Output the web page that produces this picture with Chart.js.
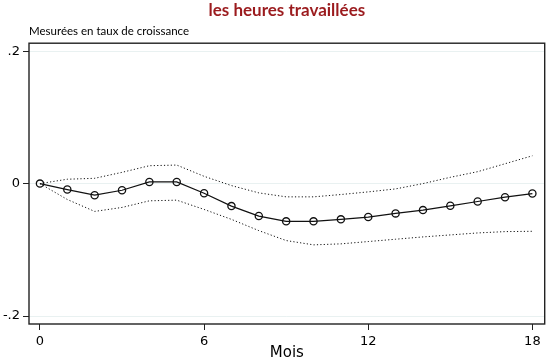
<!DOCTYPE html>
<html>
<head>
<meta charset="utf-8">
<script src="https://cdn.jsdelivr.net/npm/chart.js@4"></script>
<style>
  html, body { margin: 0; padding: 0; background: #fff; }
  #wrap { width: 550px; height: 362px; }
</style>
</head>
<body>
<div id="wrap"><canvas id="irfChart"></canvas></div>
<script>
// mois 0..18
const mois = [0,1,2,3,4,5,6,7,8,9,10,11,12,13,14,15,16,17,18];
const reponse = [0, -0.009, -0.0175, -0.010, 0.0025, 0.0025, -0.0145, -0.034, -0.049, -0.057, -0.057, -0.054, -0.0505, -0.045, -0.040, -0.0335, -0.027, -0.0205, -0.015];
const borneHaute = [0, 0.0066, 0.008, 0.017, 0.027, 0.028, 0.011, -0.003, -0.014, -0.020, -0.020, -0.0165, -0.0125, -0.008, 0.000, 0.0095, 0.018, 0.030, 0.042];
const borneBasse = [0, -0.024, -0.042, -0.036, -0.026, -0.025, -0.039, -0.054, -0.071, -0.086, -0.0925, -0.091, -0.0875, -0.084, -0.0805, -0.0775, -0.0745, -0.0725, -0.072];

const xTicks = [0, 6, 12, 18];
const yTicks = [-0.2, 0, 0.2];
const yTickLabels = ['-.2', '0', '.2'];

function toPoints(vals) {
  return mois.map((m, i) => ({ x: m, y: vals[i] }));
}

// cadre autour de la zone du graphique
const cadre = {
  id: 'cadre',
  afterDraw(chart) {
    const a = chart.chartArea;
    const ctx = chart.ctx;
    ctx.save();
    ctx.strokeStyle = '#222';
    ctx.lineWidth = 1.4;
    ctx.strokeRect(a.left, a.top, a.right - a.left, a.bottom - a.top);
    ctx.restore();
  }
};

new Chart(document.getElementById('irfChart'), {
  type: 'line',
  data: {
    datasets: [
      {
        data: toPoints(borneHaute),
        borderColor: '#111',
        borderWidth: 1,
        borderDash: [1.2, 2.2],
        pointRadius: 0,
        fill: false
      },
      {
        data: toPoints(borneBasse),
        borderColor: '#111',
        borderWidth: 1,
        borderDash: [1.2, 2.2],
        pointRadius: 0,
        fill: false
      },
      {
        data: toPoints(reponse),
        borderColor: '#111',
        borderWidth: 1.2,
        pointStyle: 'circle',
        pointRadius: 3.6,
        pointBorderWidth: 1.3,
        pointBorderColor: '#111',
        pointBackgroundColor: 'rgba(255,255,255,0)',
        fill: false
      }
    ]
  },
  options: {
    responsive: true,
    maintainAspectRatio: false,
    animation: false,
    layout: { padding: { left: 0, right: 5, top: 0, bottom: 0 } },
    plugins: {
      legend: { display: false },
      tooltip: { enabled: false },
      title: {
        display: true,
        text: 'les heures travaillées',
        color: '#9b1b1e',
        fullSize: false,
        font: { family: 'Lato', size: 17, weight: 'bold' },
        padding: { top: 0, bottom: 0 }
      },
      subtitle: {
        display: true,
        text: 'Mesurées en taux de croissance',
        color: '#000',
        align: 'start',
        fullSize: false,
        font: { family: 'Lato', size: 11.5 },
        padding: { top: 4, bottom: 5 }
      }
    },
    scales: {
      x: {
        type: 'linear',
        min: -0.4,
        max: 18.45,
        afterBuildTicks: s => { s.ticks = xTicks.map(v => ({ value: v })); },
        afterFit: s => { s.height = 38; },
        grid: { drawOnChartArea: false, drawTicks: true, tickLength: 6, tickColor: '#222' },
        border: { display: false },
        ticks: {
          padding: 4,
          color: '#000',
          font: { family: 'DejaVu Sans', size: 13 },
          callback: v => String(v)
        },
        title: {
          display: true,
          text: 'Mois',
          color: '#000',
          font: { family: 'DejaVu Sans', size: 15 },
          padding: 0
        }
      },
      y: {
        min: -0.212,
        max: 0.212,
        afterBuildTicks: s => { s.ticks = yTicks.map(v => ({ value: v })); },
        afterFit: s => { s.width = 29; },
        grid: { color: '#e9f1f1', lineWidth: 1, drawTicks: true, tickLength: 6, tickColor: '#222' },
        border: { display: false },
        ticks: {
          padding: 3,
          color: '#000',
          font: { family: 'DejaVu Sans', size: 13 },
          callback: v => yTickLabels[yTicks.indexOf(v)]
        }
      }
    }
  },
  plugins: [cadre]
});
</script>
</body>
</html>
